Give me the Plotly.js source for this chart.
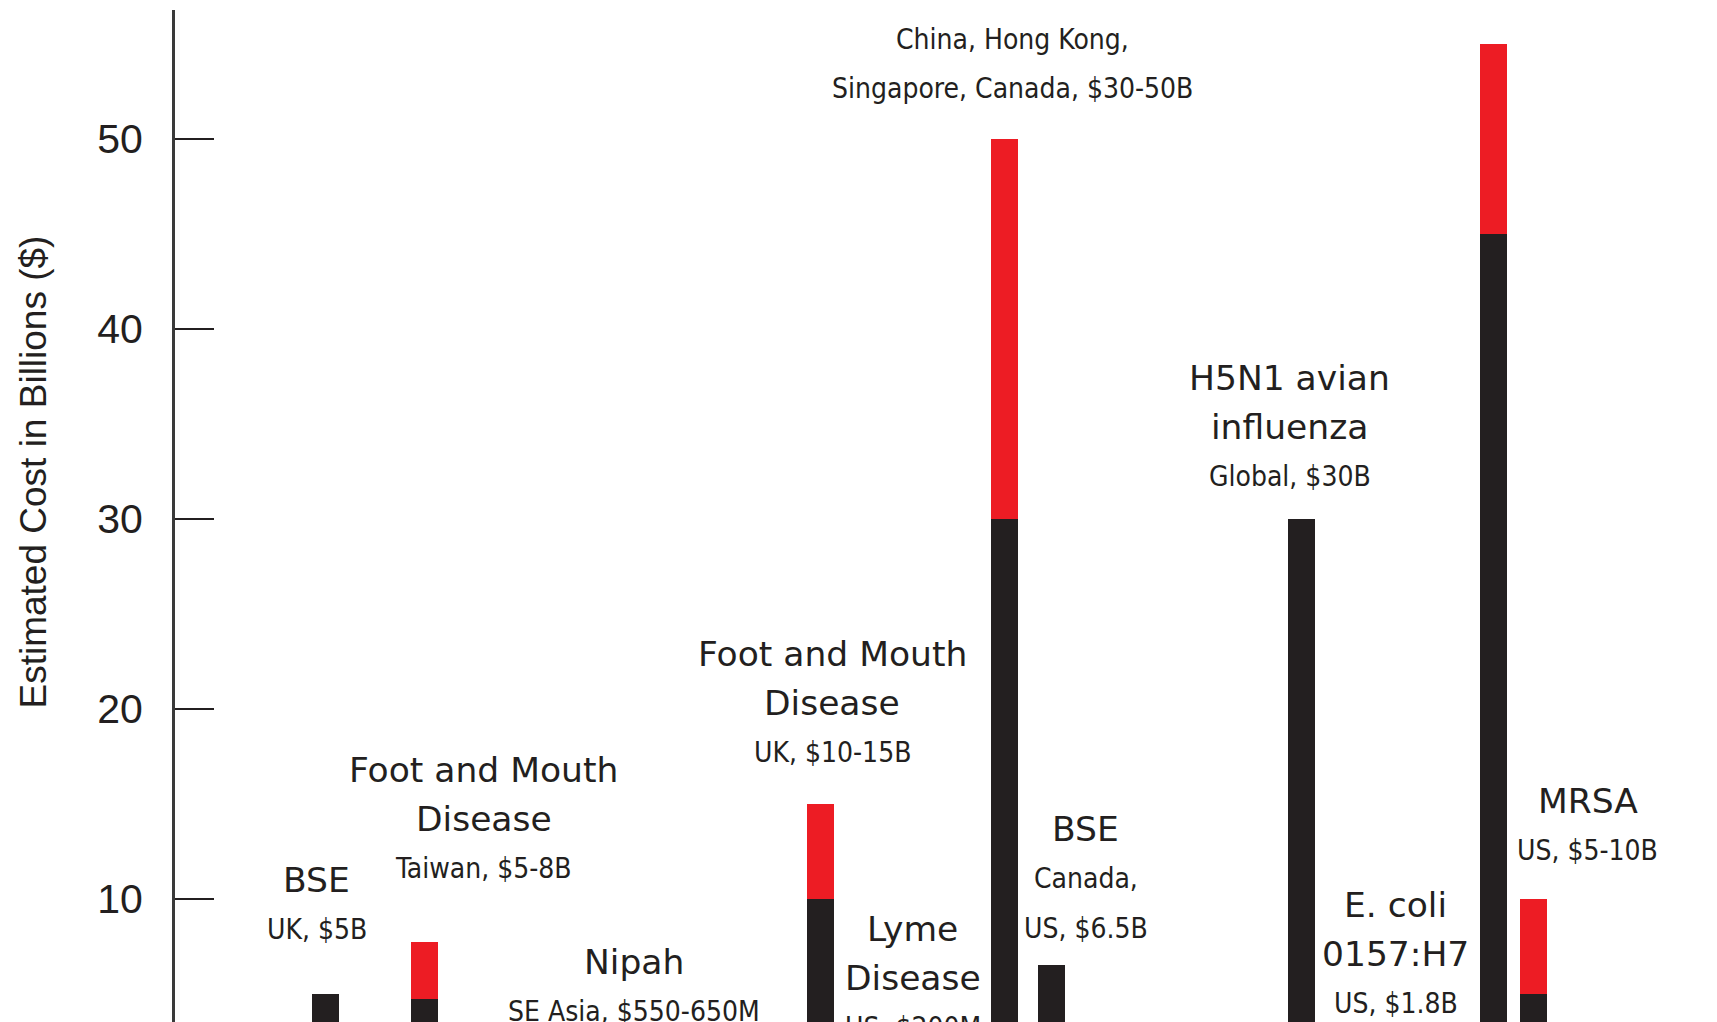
<!DOCTYPE html>
<html>
<head>
<meta charset="utf-8">
<script src="https://cdn.plot.ly/plotly-3.0.1.min.js"></script>
<style>
  html, body { margin: 0; padding: 0; background: #ffffff; }
  #chart { width: 1717px; height: 1022px; }
</style>
</head>
<body>
<div id="chart"></div>
<script>
// ---------------- DATA ----------------
// Outbreaks, in the order they appear along the (unlabelled) time axis
const outbreaks = ["BSE (UK)", "Foot and Mouth Disease (Taiwan)", "Nipah (SE Asia)",
  "Foot and Mouth Disease (UK)", "Lyme Disease (US)", "SARS (China, Hong Kong, Singapore, Canada)",
  "BSE (Canada, US)", "H5N1 avian influenza (Global)", "E. coli 0157:H7 (US)",
  "Outbreak (label cut off)", "MRSA (US)"];
// approximate position on the time line (years)
const timeline = [1996.0, 1997.0, 1999.1, 2001.0, 2001.93, 2002.86, 2003.33, 2005.86, 2006.81, 2007.8, 2008.2];
// low estimate of the cost, billions of $
const lowEstimate = [5, 4.75, 0.55, 10, 0.2, 30, 6.5, 30, 1.8, 45, 5];
// high estimate of the cost, billions of $
const highEstimate = [5, 7.75, 0.65, 15, 0.2, 50, 6.5, 30, 1.8, 55, 10];
// label texts
const nameLines = [["BSE"], ["Foot and Mouth", "Disease"], ["Nipah"], ["Foot and Mouth", "Disease"],
  ["Lyme", "Disease"], [], ["BSE"], ["H5N1 avian", "influenza"], ["E. coli", "0157:H7"], [], ["MRSA"]];
const detailLines = [["UK, $5B"], ["Taiwan, $5-8B"], ["SE Asia, $550-650M"], ["UK, $10-15B"],
  ["US, $200M"], ["China, Hong Kong,", "Singapore, Canada, $30-50B"], ["Canada,", "US, $6.5B"],
  ["Global, $30B"], ["US, $1.8B"], [], ["US, $5-10B"]];
const yTickValues = [10, 20, 30, 40, 50];
const yAxisTitle = "Estimated Cost in Billions ($)";

// ---------------- LAYOUT (positions of the text blocks) ----------------
// x (timeline units) and y (value of the first line's centre) of each label block
const labelX = [1995.91, 1997.60, 1999.12, 2001.12, 2001.93, 2002.94, 2003.68, 2005.74, 2006.81, null, 2008.75];
const labelTopY = [11.0, 16.8, 6.66, 22.91, 8.44, 55.24, 13.68, 37.43, 9.71, null, 15.18];
const LINE_STEP = 49.5; // px between lines

const INK = "#231f20";
const RED = "#ed1c24";
const NAME_FONT = {family: "DejaVu Sans, Liberation Sans, sans-serif", size: 34.5, color: INK};
const DETAIL_FONT = {family: "Liberation Sans Narrow, DejaVu Sans Condensed, Liberation Sans, sans-serif", size: 28, color: INK};

const rangeExtra = highEstimate.map((h, i) => h - lowEstimate[i]);

const traces = [
  {type: "bar", x: timeline, y: lowEstimate, width: 0.273, name: "Low estimate",
   marker: {color: INK, line: {width: 0}}, hoverinfo: "skip", text: outbreaks, textposition: "none"},
  {type: "bar", x: timeline, y: rangeExtra, width: 0.273, name: "Range to high estimate",
   marker: {color: RED, line: {width: 0}}, hoverinfo: "skip", textposition: "none"}
];

const annotations = [];
nameLines.forEach((names, i) => {
  if (labelX[i] === null) return;
  const lines = names.map(t => ({t, f: NAME_FONT})).concat(detailLines[i].map(t => ({t, f: DETAIL_FONT})));
  lines.forEach((ln, k) => {
    annotations.push({
      x: labelX[i], y: labelTopY[i], xref: "x", yref: "y",
      yshift: -k * LINE_STEP,
      text: ln.t, showarrow: false, font: ln.f,
      xanchor: "center", yanchor: "middle"
    });
  });
});
annotations.push({
  text: yAxisTitle, xref: "paper", yref: "paper",
  x: (33 - 175) / 1542, y: 1 - (472.5 - 10) / 1012,
  xanchor: "center", yanchor: "middle", textangle: -90, showarrow: false,
  font: {family: "Liberation Sans, Arial, sans-serif", size: 37, color: INK}
});

const layout = {
  width: 1717, height: 1022,
  margin: {l: 175, r: 0, t: 10, b: 0, pad: 0},
  paper_bgcolor: "#ffffff", plot_bgcolor: "#ffffff",
  barmode: "stack", showlegend: false, hovermode: false,
  xaxis: {range: [1994.48, 2010.056], visible: false, showgrid: false, zeroline: false},
  yaxis: {
    range: [3.526, 56.79], tickvals: yTickValues, ticktext: yTickValues.map(String),
    ticks: "inside", ticklen: 39, tickwidth: 2, tickcolor: INK,
    showline: true, linewidth: 3, linecolor: "#3a3a3a",
    showgrid: false, zeroline: false, ticklabelstandoff: 21,
    tickfont: {family: "Liberation Sans, Arial, sans-serif", size: 41, color: INK}
  },
  annotations: annotations
};

Plotly.newPlot("chart", traces, layout, {staticPlot: true, displayModeBar: false});
</script>
</body>
</html>
